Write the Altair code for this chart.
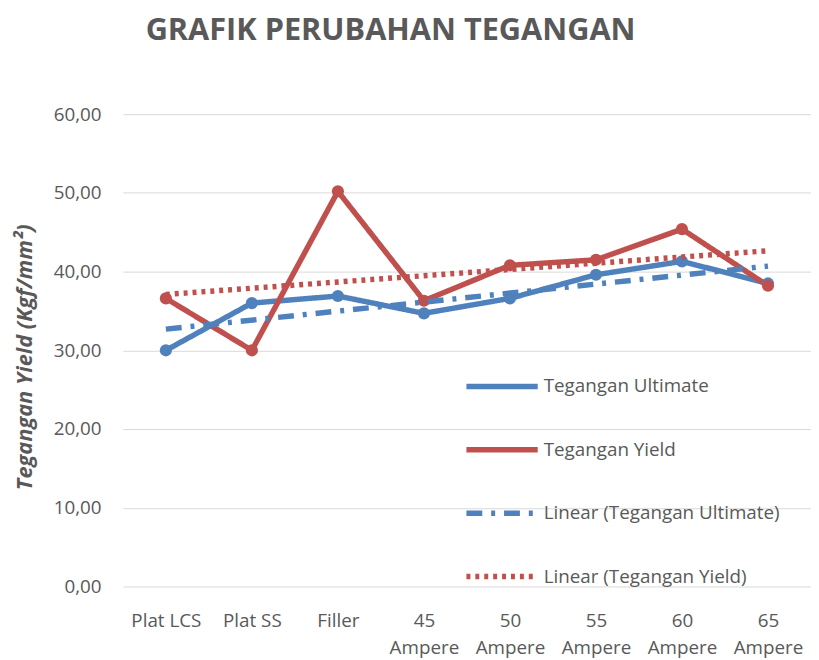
import altair as alt
import pandas as pd
import json

categories = ["Plat LCS", "Plat SS", "Filler", "45 Ampere", "50 Ampere", "55 Ampere", "60 Ampere", "65 Ampere"]
ultimate = [30.0, 36.0, 36.9, 34.7, 36.6, 39.6, 41.3, 38.5]
yield_ = [36.6, 30.0, 50.2, 36.3, 40.8, 41.5, 45.4, 38.2]
series_names = ["Tegangan Ultimate", "Tegangan Yield"]
legend_labels = ["Tegangan Ultimate", "Tegangan Yield", "Linear (Tegangan Ultimate)", "Linear (Tegangan Yield)"]
colors = ["#4F81BD", "#C0504D", "#4F81BD", "#C0504D"]
y_ticks = [0, 10, 20, 30, 40, 50, 60]

rows = []
for name, vals in zip(series_names, [ultimate, yield_]):
    for i, (c, v) in enumerate(zip(categories, vals)):
        rows.append({"idx": i + 1, "category": c, "series": name, "value": v})
df = pd.DataFrame(rows)

label_lines = [c.split(" ") if "Ampere" in c else [c] for c in categories]
label_expr = json.dumps(label_lines).replace('"', "'") + "[datum.value - 1]"

FONT = "Open Sans"
GRAY = "#595959"

x_enc = alt.X("idx:Q", scale=alt.Scale(domain=[0.5, 8.5], nice=False, zero=False),
              axis=alt.Axis(values=list(range(1, 9)), labelExpr=label_expr, title=None,
                            grid=False, ticks=False, domain=False, labelPadding=25,
                            labelFontSize=19, labelColor=GRAY, labelFont=FONT,
                            labelLineHeight=28, labelBaseline="top"))
y_enc = alt.Y("value:Q", scale=alt.Scale(domain=[0, 60], nice=False),
              axis=alt.Axis(values=y_ticks, title="Tegangan Yield (Kgf/mm²)",
                            labelExpr="replace(format(datum.value, '.2f'), '.', ',')",
                            grid=True, gridColor="#D9D9D9", ticks=False, domain=False,
                            labelPadding=22, labelFontSize=19, labelColor=GRAY, labelFont=FONT,
                            titleFont=FONT, titleFontSize=22, titleFontStyle="italic",
                            titleFontWeight="bold", titleColor=GRAY, titlePadding=17,
                            titleY=245))

color_scale = alt.Scale(domain=legend_labels, range=colors)
dash_scale = alt.Scale(domain=legend_labels, range=[[1, 0], [1, 0], [16, 9, 4, 9], [4, 5]])
width_scale = alt.Scale(domain=legend_labels, range=[5.5, 5.5, 3.5, 3.2])

legend = alt.Legend(title=None, orient="none", legendX=344, legendY=236, padding=0,
                    symbolType="stroke", symbolSize=5184, labelFontSize=19, labelColor=GRAY,
                    labelFont=FONT, labelOffset=3, rowPadding=14, symbolStrokeWidth=4,
                    labelLimit=0)

base = alt.Chart(df)

lines = base.mark_line().encode(
    x=x_enc, y=y_enc,
    color=alt.Color("series:N", scale=color_scale, legend=legend),
    strokeDash=alt.StrokeDash("series:N", scale=dash_scale, legend=legend),
    strokeWidth=alt.StrokeWidth("series:N", scale=width_scale, legend=legend),
)
points = base.mark_point(filled=True, size=150, opacity=1).encode(
    x="idx:Q", y="value:Q",
    color=alt.Color("series:N", scale=color_scale, legend=None),
)
trend = base.transform_regression("idx", "value", groupby=["series"]).transform_calculate(
    series="'Linear (' + datum.series + ')'"
).mark_line().encode(
    x="idx:Q", y="value:Q",
    color=alt.Color("series:N", scale=color_scale, legend=legend),
    strokeDash=alt.StrokeDash("series:N", scale=dash_scale, legend=legend),
    strokeWidth=alt.StrokeWidth("series:N", scale=width_scale, legend=legend),
)

chart = alt.layer(lines, points, trend).properties(
    width=695, height=477,
    autosize=alt.AutoSizeParams(type="none"),
    padding={"left": 116, "top": 104, "right": 0, "bottom": 71},
    title=alt.TitleParams("GRAFIK PERUBAHAN TEGANGAN", anchor="start", frame="group",
                          dx=23, offset=59, fontSize=31, fontWeight="bold", font=FONT, color=GRAY),
).configure_view(stroke=None)

chart.save("out.html", embed_options={"renderer": "svg", "actions": False})
